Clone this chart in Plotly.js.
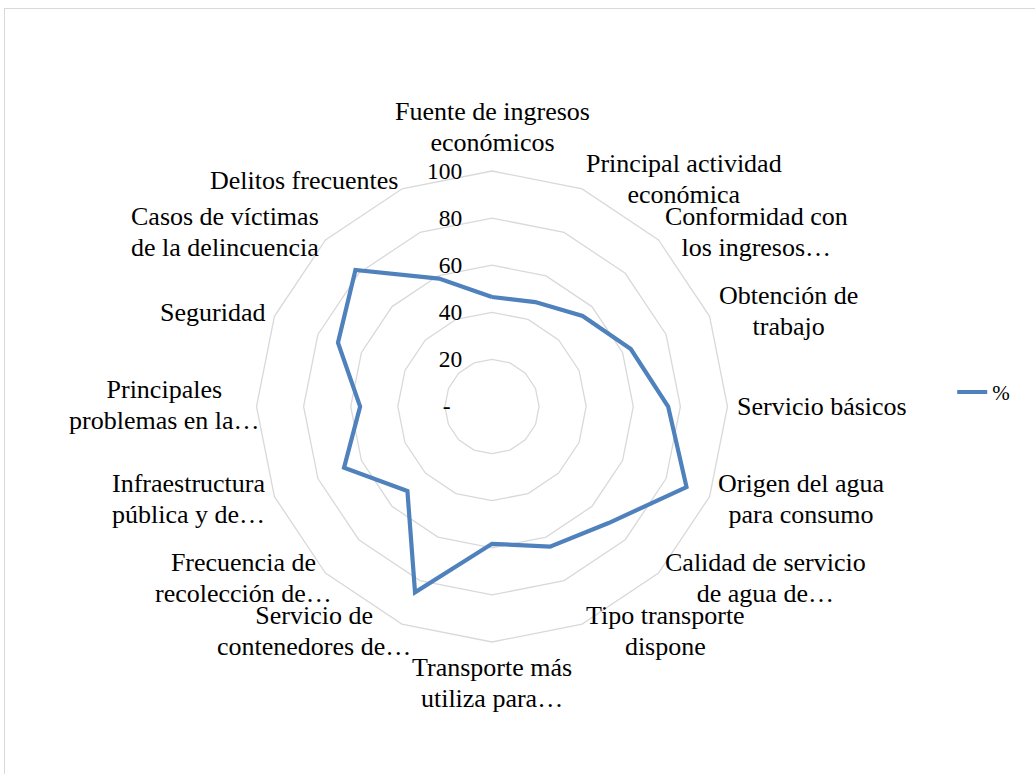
<!DOCTYPE html>
<html>
<head>
<meta charset="utf-8">
<script src="https://cdn.plot.ly/plotly-3.0.1.min.js"></script>
<style>
  html, body { margin: 0; padding: 0; background: #ffffff; }
  #frame { position: absolute; left: 4px; top: 8px; width: 1100px; height: 800px; border: 1px solid #d9d9d9; box-sizing: border-box; }
  #chart { position: absolute; left: 0; top: 0; width: 1035px; height: 774px; }
</style>
</head>
<body>
<div id="frame"></div>
<div id="chart"></div>
<script>
const categories = [
  "Fuente de ingresos económicos",
  "Principal actividad económica",
  "Conformidad con los ingresos",
  "Obtención de trabajo",
  "Servicio básicos",
  "Origen del agua para consumo",
  "Calidad de servicio de agua",
  "Tipo transporte dispone",
  "Transporte más utiliza",
  "Servicio de contenedores",
  "Frecuencia de recolección",
  "Infraestructura pública",
  "Principales problemas",
  "Seguridad",
  "Casos de víctimas de la delincuencia",
  "Delitos frecuentes"
];
const categoryLabels = [
  "Fuente de ingresos<br>económicos",
  "Principal actividad<br>económica",
  "Conformidad con<br>los ingresos…",
  "Obtención de<br>trabajo",
  "Servicio básicos",
  "Origen del agua<br>para consumo",
  "Calidad de servicio<br>de agua de…",
  "Tipo transporte<br>dispone",
  "Transporte más<br>utiliza para…",
  "Servicio de<br>contenedores de…",
  "Frecuencia de<br>recolección de…",
  "Infraestructura<br>pública y de…",
  "Principales<br>problemas en la…",
  "Seguridad",
  "Casos de víctimas<br>de la delincuencia",
  "Delitos frecuentes"
];
const values = [46.5, 48, 54.4, 63.8, 74.8, 89.4, 70, 64.4, 58.3, 85.4, 50.8, 68, 56, 70.8, 82, 58.8];
const seriesName = "%";
const radialTickVals = [0, 20, 40, 60, 80, 100];
const radialTickText = ["-\u00a0\u00a0", "20", "40", "60", "80", "100"];

const font = "Liberation Serif";
const labelSize = 26;

const W = 1035, H = 774;
const margin = { l: 256, r: 307, t: 171, b: 132 };
const plotW = W - margin.l - margin.r;
const plotH = H - margin.t - margin.b;
const side = Math.min(plotW, plotH);
const cx = margin.l + plotW / 2;
const cy = margin.t + plotH / 2;
const radius = side / 2;
const labelR = radius + 9.5;

// measure label widths (Excel centres the lines without the trailing ellipsis)
const ctx = document.createElement("canvas").getContext("2d");
ctx.font = labelSize + "px '" + font + "'";
function blockWidth(lbl) {
  return Math.max.apply(null, lbl.split("<br>").map(function (s) {
    return ctx.measureText(s.replace(/…$/, "")).width;
  }));
}

const annotations = categoryLabels.map(function (lbl, i) {
  const th = i * 2 * Math.PI / categoryLabels.length;
  const s = Math.sin(th), c = Math.cos(th);
  const px = cx + labelR * s;
  const py = cy - labelR * c;
  const w = blockWidth(lbl);
  let xc = px, yanchor = "middle";
  if (Math.abs(s) < 1e-6) {
    yanchor = c > 0 ? "bottom" : "top";
  } else if (s > 0) {
    xc = px + w / 2;
  } else {
    xc = px - w / 2;
  }
  return {
    text: lbl,
    xref: "paper", yref: "paper",
    x: (xc - margin.l) / plotW,
    y: (H - margin.b - py) / plotH,
    xanchor: "center", yanchor: yanchor, align: "center",
    showarrow: false,
    borderpad: 0,
    font: { family: font, size: labelSize, color: "#000000" }
  };
});

const trace = {
  type: "scatterpolar",
  mode: "lines",
  name: seriesName,
  r: values.concat([values[0]]),
  theta: categories.concat([categories[0]]),
  line: { color: "#4f81bd", width: 4.2, shape: "linear" },
  showlegend: true
};

const layout = {
  width: W,
  height: H,
  margin: margin,
  paper_bgcolor: "rgba(0,0,0,0)",
  plot_bgcolor: "rgba(0,0,0,0)",
  font: { family: font, size: 24, color: "#000000" },
  showlegend: true,
  legend: {
    x: 1.475, y: 0.53, xanchor: "left", yanchor: "middle",
    font: { family: font, size: 21, color: "#000000" },
    bgcolor: "rgba(0,0,0,0)"
  },
  annotations: annotations,
  polar: {
    domain: { x: [0, 1], y: [0, 1] },
    bgcolor: "rgba(0,0,0,0)",
    gridshape: "linear",
    angularaxis: {
      type: "category",
      categoryorder: "array",
      categoryarray: categories,
      rotation: 90,
      direction: "clockwise",
      showgrid: false,
      showline: true,
      showticklabels: false,
      linecolor: "#d9d9d9",
      linewidth: 1.3,
      ticks: ""
    },
    radialaxis: {
      range: [0, 100],
      angle: 90,
      side: "counterclockwise",
      tickangle: 90,
      tickmode: "array",
      tickvals: radialTickVals,
      ticktext: radialTickText,
      showline: false,
      ticks: "outside",
      ticklen: 21,
      tickcolor: "rgba(0,0,0,0)",
      gridcolor: "#d9d9d9",
      gridwidth: 1.3,
      tickfont: { family: font, size: 23.5, color: "#000000" }
    }
  }
};

Plotly.newPlot("chart", [trace], layout, { displayModeBar: false, staticPlot: true }).then(function (gd) {
  // tighten the line spacing of the wrapped category labels (1.3em -> 1.18em)
  gd.querySelectorAll(".annotation-text tspan.line").forEach(function (t) {
    const dy = parseFloat(t.getAttribute("dy"));
    if (dy) t.setAttribute("dy", (dy / 1.3 * 1.18) + "em");
  });
});
</script>
</body>
</html>
